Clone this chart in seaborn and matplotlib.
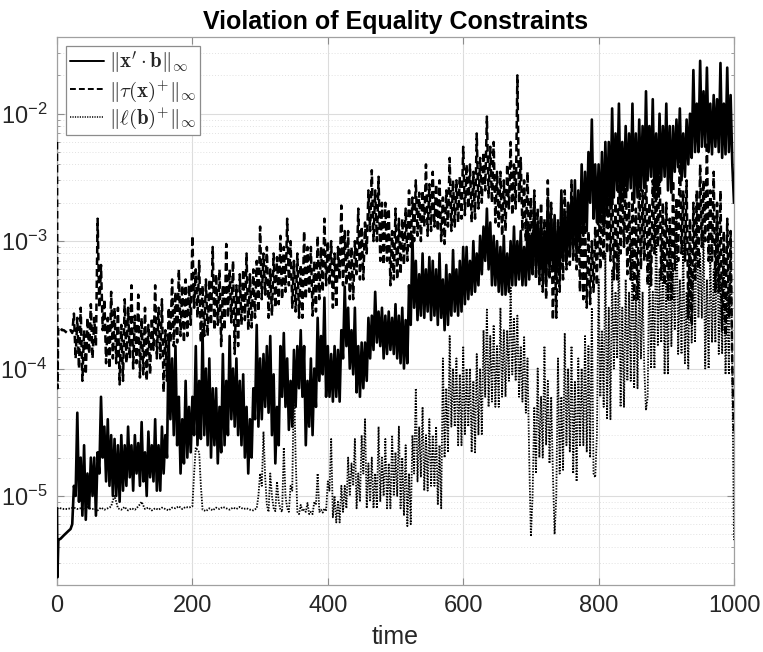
import numpy as np
import pandas as pd
import matplotlib
matplotlib.use("Agg")
import matplotlib.pyplot as plt
from matplotlib.font_manager import FontProperties
from matplotlib.ticker import FixedLocator, LogLocator, FuncFormatter, NullFormatter
import seaborn as sns

sns.set_style("ticks")
plt.rcParams['font.family'] = ['Liberation Sans', 'DejaVu Sans']

# ---------------- data ----------------
title = "Violation of Equality Constraints"
xlabel = "time"
labels = [r"$\|\mathbf{x}'\cdot\mathbf{b}\|_\infty$",
          r"$\|\tau(\mathbf{x})^{+}\|_\infty$",
          r"$\|\ell(\mathbf{b})^{+}\|_\infty$"]

# samples at t = 5, 10, ..., 1000 (local peaks) and t = 2.5, 7.5, ..., 997.5 (local troughs)
time_grid = np.arange(5, 1001, 5)
time_mid = np.arange(2.5, 1000, 5)

# short lead-in portions near t = 0
xb_start_t = [0, 0.6, 2]
xb_start_v = [8.0e-6, 2.3e-6, 4.5e-6]
tau_start_t = [0, 0.8, 1.8]
tau_start_v = [6.0e-3, 7.0e-5, 2.1e-4]
ell_start_t = [0]
ell_start_v = [8.0e-6]

xb_vals = [
    4.6e-6, 4.9e-6, 5.2e-6, 5.5e-6, 1.2e-5, 4.5e-5, 2.0e-5, 2.5e-5, 1.5e-5, 2.0e-5,   # 5-50
    2.0e-5, 2.2e-5, 6.0e-5, 3.5e-5, 4.0e-5, 3.0e-5, 2.8e-5, 2.5e-5, 3.0e-5, 2.5e-5,   # 55-100
    3.5e-5, 2.5e-5, 3.0e-5, 2.6e-5, 3.8e-5, 2.2e-5, 3.2e-5, 2.5e-5, 4.0e-5, 2.5e-5,   # 105-150
    3.5e-5, 3.0e-5, 1.8e-4, 1.2e-4, 1.5e-4, 6.0e-5, 4.0e-5, 8.0e-5, 5.0e-5, 6.0e-5,   # 155-200
    1.5e-4, 8.0e-5, 2.0e-4, 1.0e-4, 1.2e-4, 7.0e-5, 7.0e-5, 5.0e-5, 1.3e-4, 8.0e-5,   # 205-250
    1.8e-4, 1.0e-4, 1.2e-4, 8.0e-5, 9.0e-5, 5.0e-5, 4.0e-5, 7.0e-5, 2.2e-4, 1.2e-4,   # 255-300
    1.3e-4, 1.5e-4, 1.8e-4, 9.0e-5, 5.0e-5, 1.5e-4, 1.9e-4, 1.2e-4, 8.0e-5, 1.4e-4,   # 305-350
    1.5e-4, 2.0e-4, 1.5e-4, 8.0e-5, 1.2e-4, 1.0e-4, 2.5e-4, 1.8e-4, 3.6e-4, 1.5e-4,   # 355-400
    1.3e-4, 1.5e-4, 1.4e-4, 2.0e-4, 4.4e-4, 3.0e-4, 2.0e-4, 3.0e-4, 1.5e-4, 1.6e-4,   # 405-450
    1.6e-4, 2.5e-4, 2.6e-4, 4.0e-4, 2.8e-4, 3.0e-4, 2.6e-4, 2.8e-4, 2.5e-4, 3.2e-4,   # 455-500
    2.6e-4, 3.0e-4, 2.4e-4, 4.5e-4, 1.1e-3, 7.0e-4, 5.5e-4, 8.0e-4, 6.0e-4, 7.5e-4,   # 505-550
    7.0e-4, 6.0e-4, 8.0e-4, 5.0e-4, 6.5e-4, 5.5e-4, 8.5e-4, 6.0e-4, 7.0e-4, 9.0e-4,   # 555-600
    9.0e-4, 7.0e-4, 1.0e-3, 8.0e-4, 1.1e-3, 1.3e-3, 1.8e-3, 1.4e-3, 1.1e-3, 1.0e-3,   # 605-650
    9.0e-4, 1.1e-3, 8.0e-4, 1.0e-3, 1.3e-3, 1.0e-3, 1.2e-3, 9.0e-4, 1.3e-3, 1.1e-3,   # 655-700
    2.0e-3, 1.4e-3, 1.5e-3, 1.2e-3, 2.2e-3, 1.5e-3, 1.6e-3, 1.3e-3, 2.5e-3, 1.6e-3,   # 705-750
    2.0e-3, 2.2e-3, 3.0e-3, 2.5e-3, 4.0e-3, 3.5e-3, 5.0e-3, 9.0e-3, 4.0e-3, 4.0e-3,   # 755-800
    5.0e-3, 6.0e-3, 6.0e-3, 1.1e-2, 7.0e-3, 1.2e-2, 6.0e-3, 8.0e-3, 7.0e-3, 1.2e-2,   # 805-850
    7.0e-3, 9.0e-3, 8.0e-3, 1.5e-2, 8.0e-3, 1.3e-2, 7.0e-3, 1.0e-2, 8.0e-3, 1.2e-2,   # 855-900
    8.0e-3, 8.0e-3, 9.0e-3, 1.1e-2, 7.0e-3, 9.0e-3, 1.0e-2, 2.2e-2, 1.2e-2, 2.6e-2,   # 905-950
    1.5e-2, 2.3e-2, 1.2e-2, 1.4e-2, 1.3e-2, 2.5e-2, 1.2e-2, 2.3e-2, 1.4e-2, 2.0e-3,   # 955-1000
]
xb_mid = [
    4.55e-6, 4.75e-6, 5.05e-6, 5.35e-6, 6.0e-6, 1.0e-5, 9.0e-6, 7.0e-6, 6.5e-6, 8.0e-6,   # 2.5-47.5
    1.0e-5, 7.0e-6, 1.5e-5, 2.0e-5, 1.3e-5, 1.2e-5, 1.0e-5, 1.0e-5, 9.0e-6, 1.1e-5,       # 52.5-97.5
    1.2e-5, 1.4e-5, 1.1e-5, 1.5e-5, 1.2e-5, 1.3e-5, 1.0e-5, 1.4e-5, 1.3e-5, 1.1e-5,       # 102.5-147.5
    1.1e-5, 1.5e-5, 2.0e-5, 4.0e-5, 3.0e-5, 2.5e-5, 1.5e-5, 1.8e-5, 2.0e-5, 2.2e-5,       # 152.5-197.5
    3.0e-5, 2.5e-5, 2.8e-5, 3.0e-5, 2.5e-5, 2.0e-5, 2.5e-5, 1.8e-5, 2.2e-5, 2.5e-5,       # 202.5-247.5
    3.0e-5, 4.0e-5, 3.5e-5, 3.0e-5, 2.5e-5, 2.0e-5, 1.5e-5, 2.0e-5, 4.0e-5, 3.5e-5,       # 252.5-297.5
    4.0e-5, 5.0e-5, 4.5e-5, 3.0e-5, 1.8e-5, 2.5e-5, 6.0e-5, 5.0e-5, 3.3e-5, 3.5e-5,       # 302.5-347.5
    5.0e-5, 7.0e-5, 6.0e-5, 2.5e-5, 3.5e-5, 3.0e-5, 5.0e-5, 8.0e-5, 9.0e-5, 6.0e-5,       # 352.5-397.5
    6.0e-5, 5.5e-5, 6.0e-5, 5.5e-5, 1.2e-4, 1.5e-4, 1.0e-4, 9.0e-5, 6.5e-5, 6.0e-5,       # 402.5-447.5
    7.0e-5, 8.0e-5, 1.2e-4, 1.4e-4, 1.6e-4, 1.5e-4, 1.2e-4, 1.3e-4, 1.4e-4, 1.3e-4,       # 452.5-497.5
    1.2e-4, 1.1e-4, 1.0e-4, 1.1e-4, 2.2e-4, 3.0e-4, 2.4e-4, 2.6e-4, 2.5e-4, 2.8e-4,       # 502.5-547.5
    2.4e-4, 2.6e-4, 2.2e-4, 2.5e-4, 2.0e-4, 2.2e-4, 2.6e-4, 2.8e-4, 2.6e-4, 2.8e-4,       # 552.5-597.5
    3.2e-4, 3.5e-4, 3.8e-4, 4.0e-4, 4.5e-4, 5.5e-4, 7.0e-4, 6.0e-4, 4.5e-4, 4.5e-4,       # 602.5-647.5
    4.0e-4, 3.8e-4, 3.8e-4, 4.0e-4, 4.5e-4, 4.5e-4, 5.0e-4, 4.5e-4, 4.5e-4, 5.0e-4,       # 652.5-697.5
    5.5e-4, 6.0e-4, 5.5e-4, 5.0e-4, 4.8e-4, 6.0e-4, 6.5e-4, 5.0e-4, 5.5e-4, 7.0e-4,       # 702.5-747.5
    7.0e-4, 8.0e-4, 9.0e-4, 8.0e-4, 9.0e-4, 1.1e-3, 1.2e-3, 2.0e-3, 1.5e-3, 1.4e-3,       # 752.5-797.5
    1.4e-3, 1.3e-3, 1.6e-3, 1.8e-3, 2.2e-3, 2.5e-3, 2.0e-3, 2.2e-3, 2.5e-3, 2.6e-3,       # 802.5-847.5
    2.0e-3, 2.2e-3, 2.5e-3, 2.6e-3, 3.0e-3, 3.2e-3, 2.2e-3, 2.4e-3, 3.0e-3, 3.2e-3,       # 852.5-897.5
    2.5e-3, 2.4e-3, 3.5e-3, 3.8e-3, 3.0e-3, 3.2e-3, 4.0e-3, 4.5e-3, 5.0e-3, 5.0e-3,       # 902.5-947.5
    5.5e-3, 5.5e-3, 5.0e-3, 4.8e-3, 5.5e-3, 5.0e-3, 4.5e-3, 4.8e-3, 5.0e-3, 4.0e-3,       # 952.5-997.5
]

tau_vals = [
    2.1e-4, 2.0e-4, 1.9e-4, 2.0e-4, 2.7e-4, 2.5e-4, 3.0e-4, 2.0e-4, 2.5e-4, 3.2e-4,   # 5-50
    2.5e-4, 1.5e-3, 6.5e-4, 3.5e-4, 2.5e-4, 4.0e-4, 3.0e-4, 3.0e-4, 2.2e-4, 3.5e-4,   # 55-100
    3.0e-4, 4.5e-4, 2.6e-4, 3.8e-4, 2.5e-4, 3.0e-4, 2.2e-4, 2.5e-4, 4.5e-4, 3.0e-4,   # 105-150
    3.5e-4, 2.0e-4, 3.0e-4, 5.0e-4, 4.0e-4, 6.0e-4, 4.5e-4, 5.0e-4, 4.5e-4, 1.1e-3,   # 155-200
    6.0e-4, 7.0e-4, 4.5e-4, 5.0e-4, 5.0e-4, 9.0e-4, 5.5e-4, 6.0e-4, 4.5e-4, 9.5e-4,   # 205-250
    6.0e-4, 7.0e-4, 4.5e-4, 5.5e-4, 6.0e-4, 8.0e-4, 5.5e-4, 6.0e-4, 7.0e-4, 1.3e-3,   # 255-300
    8.0e-4, 9.0e-4, 6.0e-4, 8.0e-4, 7.5e-4, 1.1e-3, 9.0e-4, 1.5e-3, 1.0e-3, 7.0e-4,   # 305-350
    8.0e-4, 6.5e-4, 1.2e-3, 9.0e-4, 9.0e-4, 7.0e-4, 1.1e-3, 9.0e-4, 1.5e-3, 1.0e-3,   # 355-400
    1.0e-3, 8.0e-4, 9.0e-4, 1.9e-3, 1.2e-3, 1.2e-3, 9.0e-4, 1.0e-3, 1.8e-3, 1.3e-3,   # 405-450
    1.4e-3, 2.5e-3, 3.6e-3, 2.5e-3, 3.2e-3, 2.0e-3, 2.0e-3, 1.8e-3, 1.2e-3, 1.8e-3,   # 455-500
    1.5e-3, 1.5e-3, 1.8e-3, 2.5e-3, 2.2e-3, 3.0e-3, 2.4e-3, 2.5e-3, 4.0e-3, 2.8e-3,   # 505-550
    3.5e-3, 2.8e-3, 3.0e-3, 2.2e-3, 2.5e-3, 4.5e-3, 3.0e-3, 3.0e-3, 3.2e-3, 5.5e-3,   # 555-600
    4.0e-3, 4.0e-3, 3.5e-3, 7.0e-3, 4.5e-3, 5.0e-3, 9.5e-3, 5.5e-3, 6.0e-3, 3.5e-3,   # 605-650
    3.5e-3, 3.0e-3, 4.0e-3, 6.0e-3, 4.0e-3, 2.0e-2, 4.5e-3, 3.0e-3, 3.5e-3, 2.2e-3,   # 655-700
    2.5e-3, 1.8e-3, 2.0e-3, 1.5e-3, 3.0e-3, 2.0e-3, 1.2e-3, 1.5e-3, 1.8e-3, 2.5e-3,   # 705-750
    2.0e-3, 3.0e-3, 2.2e-3, 2.0e-3, 1.5e-3, 1.5e-3, 1.2e-3, 1.0e-3, 1.3e-3, 2.5e-3,   # 755-800
    2.0e-3, 4.0e-3, 2.5e-3, 3.0e-3, 2.0e-3, 5.0e-3, 3.0e-3, 4.0e-3, 2.0e-3, 2.5e-3,   # 805-850
    1.8e-3, 3.5e-3, 2.5e-3, 5.0e-3, 2.0e-3, 3.0e-3, 3.0e-3, 4.5e-3, 2.0e-3, 2.0e-3,   # 855-900
    1.5e-3, 3.0e-3, 2.2e-3, 5.5e-3, 2.5e-3, 3.0e-3, 1.5e-3, 2.0e-3, 2.5e-3, 4.0e-3,   # 905-950
    3.0e-3, 6.0e-3, 2.5e-3, 3.5e-3, 2.0e-3, 2.5e-3, 1.2e-3, 1.5e-3, 1.2e-3, 3.0e-5,   # 955-1000
]
tau_mid = [
    2.1e-4, 2.0e-4, 1.95e-4, 1.95e-4, 1.9e-4, 1.2e-4, 1.0e-4, 8.0e-5, 9.0e-5, 1.3e-4,    # 2.5-47.5
    1.2e-4, 1.5e-4, 3.0e-4, 2.0e-4, 1.1e-4, 1.0e-4, 1.2e-4, 1.1e-4, 7.5e-5, 8.0e-5,      # 52.5-97.5
    1.1e-4, 1.2e-4, 1.0e-4, 1.1e-4, 8.5e-5, 9.0e-5, 8.0e-5, 9.0e-5, 1.4e-4, 1.2e-4,      # 102.5-147.5
    1.2e-4, 6.5e-5, 8.0e-5, 1.6e-4, 1.5e-4, 1.6e-4, 1.8e-4, 1.6e-4, 1.8e-4, 2.2e-4,      # 152.5-197.5
    3.0e-4, 2.5e-4, 1.6e-4, 1.8e-4, 1.8e-4, 2.2e-4, 2.0e-4, 2.2e-4, 1.5e-4, 2.0e-4,      # 202.5-247.5
    2.5e-4, 2.3e-4, 1.3e-4, 1.5e-4, 2.2e-4, 2.4e-4, 2.0e-4, 2.1e-4, 2.5e-4, 2.8e-4,      # 252.5-297.5
    3.5e-4, 3.8e-4, 2.5e-4, 2.6e-4, 3.0e-4, 3.2e-4, 3.5e-4, 4.0e-4, 4.5e-4, 3.0e-4,      # 302.5-347.5
    2.8e-4, 2.5e-4, 2.5e-4, 3.5e-4, 4.0e-4, 2.6e-4, 2.8e-4, 3.5e-4, 4.0e-4, 4.5e-4,      # 352.5-397.5
    4.5e-4, 3.0e-4, 3.0e-4, 5.0e-4, 4.5e-4, 4.5e-4, 3.5e-4, 3.5e-4, 5.5e-4, 5.0e-4,      # 402.5-447.5
    5.0e-4, 8.0e-4, 1.2e-3, 1.0e-3, 1.0e-3, 7.0e-4, 6.5e-4, 7.0e-4, 4.5e-4, 5.0e-4,      # 452.5-497.5
    5.0e-4, 5.5e-4, 6.5e-4, 7.0e-4, 9.0e-4, 1.0e-3, 1.1e-3, 1.0e-3, 1.3e-3, 1.1e-3,      # 502.5-547.5
    1.2e-3, 1.3e-3, 1.2e-3, 1.0e-3, 9.5e-4, 1.3e-3, 1.2e-3, 1.3e-3, 1.4e-3, 1.5e-3,      # 552.5-597.5
    1.6e-3, 1.8e-3, 1.4e-3, 1.5e-3, 1.8e-3, 2.0e-3, 2.5e-3, 2.2e-3, 2.0e-3, 1.4e-3,      # 602.5-647.5
    1.3e-3, 1.1e-3, 1.2e-3, 1.8e-3, 1.6e-3, 1.8e-3, 2.0e-3, 1.2e-3, 1.0e-3, 7.0e-4,      # 652.5-697.5
    6.0e-4, 5.0e-4, 4.5e-4, 4.0e-4, 3.5e-4, 5.0e-4, 2.4e-4, 2.5e-4, 4.0e-4, 5.0e-4,      # 702.5-747.5
    6.0e-4, 6.5e-4, 7.0e-4, 6.0e-4, 4.0e-4, 3.5e-4, 3.0e-4, 3.2e-4, 4.0e-4, 4.5e-4,      # 752.5-797.5
    6.0e-4, 7.0e-4, 8.0e-4, 7.0e-4, 5.0e-4, 5.0e-4, 8.0e-4, 9.0e-4, 5.5e-4, 5.0e-4,      # 802.5-847.5
    3.5e-4, 3.5e-4, 6.0e-4, 7.0e-4, 4.5e-4, 4.5e-4, 8.0e-4, 9.0e-4, 5.0e-4, 4.5e-4,      # 852.5-897.5
    3.5e-4, 3.5e-4, 6.0e-4, 7.0e-4, 8.0e-4, 7.0e-4, 2.5e-4, 2.2e-4, 5.0e-4, 6.0e-4,      # 902.5-947.5
    9.0e-4, 1.0e-3, 7.0e-4, 7.0e-4, 4.0e-4, 4.0e-4, 2.0e-4, 1.8e-4, 2.5e-4, 1.0e-4,      # 952.5-997.5
]

ell_vals = [
    8.0e-6, 7.9e-6, 7.9e-6, 8.0e-6, 8.1e-6, 7.9e-6, 8.0e-6, 7.8e-6, 8.2e-6, 7.9e-6,   # 5-50
    8.0e-6, 7.7e-6, 8.1e-6, 7.8e-6, 8.0e-6, 8.3e-6, 1.0e-5, 8.0e-6, 7.8e-6, 8.2e-6,   # 55-100
    7.7e-6, 8.0e-6, 7.8e-6, 8.3e-6, 9.0e-6, 7.9e-6, 8.1e-6, 7.7e-6, 8.0e-6, 7.8e-6,   # 105-150
    8.1e-6, 7.9e-6, 7.7e-6, 8.1e-6, 8.0e-6, 8.3e-6, 7.9e-6, 8.2e-6, 8.1e-6, 8.3e-6,   # 155-200
    2.4e-5, 2.2e-5, 7.8e-6, 7.6e-6, 8.0e-6, 7.7e-6, 8.1e-6, 7.9e-6, 8.2e-6, 8.0e-6,   # 205-250
    7.8e-6, 8.1e-6, 7.9e-6, 8.2e-6, 7.9e-6, 8.0e-6, 7.8e-6, 7.7e-6, 8.0e-6, 1.5e-5,   # 255-300
    3.2e-5, 8.5e-6, 1.5e-5, 8.0e-6, 1.3e-5, 7.8e-6, 2.4e-5, 8.0e-6, 1.2e-5, 9.3e-5,   # 305-350
    7.5e-6, 8.5e-6, 7.8e-6, 8.8e-6, 7.5e-6, 9.0e-6, 1.5e-5, 7.8e-6, 8.0e-6, 1.3e-5,   # 355-400
    2.8e-5, 1.0e-5, 9.0e-6, 1.2e-5, 1.2e-5, 2.0e-5, 1.8e-5, 2.8e-5, 1.5e-5, 3.0e-5,   # 405-450
    4.0e-5, 1.8e-5, 2.0e-5, 1.5e-5, 3.5e-5, 2.0e-5, 2.8e-5, 1.8e-5, 3.0e-5, 2.2e-5,   # 455-500
    3.5e-5, 2.0e-5, 2.5e-5, 1.5e-5, 3.0e-5, 7.0e-5, 3.5e-5, 5.0e-5, 3.0e-5, 4.0e-5,   # 505-550
    3.0e-5, 3.5e-5, 2.5e-5, 1.2e-4, 7.0e-5, 1.8e-4, 1.0e-4, 1.2e-4, 9.0e-5, 1.5e-4,   # 555-600
    1.0e-4, 1.0e-4, 8.0e-5, 1.3e-4, 1.0e-4, 2.0e-4, 2.9e-4, 1.8e-4, 2.2e-4, 1.5e-4,   # 605-650
    3.0e-4, 2.0e-4, 2.0e-4, 4.4e-4, 2.5e-4, 2.6e-4, 1.5e-4, 1.8e-4, 1.2e-4, 4.8e-6,   # 655-700
    5.0e-5, 1.0e-4, 6.0e-5, 1.5e-4, 8.0e-5, 6.0e-5, 5.0e-6, 1.2e-4, 6.0e-5, 1.9e-4,   # 705-750
    1.0e-4, 1.5e-4, 8.0e-5, 1.2e-4, 1.0e-4, 1.8e-4, 1.5e-4, 3.0e-4, 1.4e-5, 5.0e-4,   # 755-800
    2.0e-4, 8.0e-4, 3.0e-4, 6.0e-4, 4.0e-4, 9.0e-4, 3.0e-4, 5.0e-4, 4.0e-4, 1.0e-3,   # 805-850
    4.0e-4, 6.0e-4, 4.0e-4, 4.7e-5, 8.0e-4, 4.0e-4, 1.5e-3, 6.0e-4, 9.0e-4, 5.0e-4,   # 855-900
    1.2e-3, 6.0e-4, 2.0e-3, 5.0e-4, 1.0e-3, 4.0e-4, 8.0e-4, 6.0e-4, 1.8e-3, 8.0e-4,   # 905-950
    1.2e-3, 5.0e-4, 9.0e-4, 6.0e-4, 1.5e-3, 5.0e-4, 8.0e-4, 4.0e-4, 1.2e-3, 4.5e-6,   # 955-1000
]
ell_mid = [
    8.0e-6, 7.95e-6, 7.9e-6, 7.95e-6, 8.05e-6, 8.0e-6, 7.95e-6, 7.9e-6, 8.0e-6, 8.05e-6,    # 2.5-47.5
    7.9e-6, 7.85e-6, 7.9e-6, 7.95e-6, 7.9e-6, 8.1e-6, 9.2e-6, 9.0e-6, 7.9e-6, 8.0e-6,       # 52.5-97.5
    7.9e-6, 7.85e-6, 7.9e-6, 8.0e-6, 8.6e-6, 8.4e-6, 8.0e-6, 7.9e-6, 7.85e-6, 7.9e-6,       # 102.5-147.5
    7.95e-6, 8.0e-6, 7.8e-6, 7.9e-6, 8.05e-6, 8.15e-6, 8.1e-6, 8.05e-6, 8.15e-6, 8.2e-6,    # 152.5-197.5
    1.5e-5, 2.3e-5, 1.2e-5, 7.7e-6, 7.8e-6, 7.85e-6, 7.9e-6, 8.0e-6, 8.05e-6, 8.1e-6,       # 202.5-247.5
    7.9e-6, 7.95e-6, 8.0e-6, 8.05e-6, 8.05e-6, 7.95e-6, 7.9e-6, 7.75e-6, 7.85e-6, 1.0e-5,   # 252.5-297.5
    1.2e-5, 1.4e-5, 7.5e-6, 1.0e-5, 7.6e-6, 9.0e-6, 7.5e-6, 1.0e-5, 7.5e-6, 1.1e-5,        # 302.5-347.5
    2.0e-5, 7.2e-6, 7.6e-6, 7.5e-6, 7.2e-6, 7.2e-6, 8.5e-6, 7.5e-6, 7.4e-6, 7.6e-6,        # 352.5-397.5
    1.1e-5, 6.8e-6, 6.2e-6, 6.2e-6, 7.5e-6, 8.0e-6, 1.0e-5, 1.2e-5, 8.0e-6, 9.0e-6,        # 402.5-447.5
    1.5e-5, 8.0e-6, 9.0e-6, 8.0e-6, 8.0e-6, 9.0e-6, 1.0e-5, 8.0e-6, 8.0e-6, 1.0e-5,        # 452.5-497.5
    1.0e-5, 8.0e-6, 7.0e-6, 5.8e-6, 6.0e-6, 1.5e-5, 1.3e-5, 1.4e-5, 1.1e-5, 1.1e-5,        # 502.5-547.5
    1.2e-5, 1.2e-5, 8.5e-6, 8.0e-6, 2.0e-5, 2.2e-5, 3.5e-5, 3.5e-5, 2.5e-5, 2.5e-5,        # 552.5-597.5
    3.0e-5, 3.5e-5, 2.2e-5, 2.2e-5, 3.0e-5, 3.0e-5, 6.0e-5, 5.0e-5, 5.5e-5, 5.0e-5,        # 602.5-647.5
    5.0e-5, 6.0e-5, 6.0e-5, 8.0e-5, 9.0e-5, 8.0e-5, 6.0e-5, 5.5e-5, 4.5e-5, 2.0e-5,        # 652.5-697.5
    1.0e-5, 1.5e-5, 2.0e-5, 2.0e-5, 2.5e-5, 1.8e-5, 1.5e-5, 1.0e-5, 1.5e-5, 1.6e-5,        # 702.5-747.5
    2.5e-5, 2.2e-5, 1.5e-5, 1.3e-5, 2.5e-5, 2.5e-5, 2.2e-5, 2.0e-5, 1.5e-5, 3.0e-5,        # 752.5-797.5
    6.0e-5, 5.0e-5, 4.0e-5, 4.0e-5, 1.0e-4, 1.2e-4, 5.0e-5, 5.0e-5, 8.0e-5, 8.0e-5,        # 802.5-847.5
    7.0e-5, 7.0e-5, 1.2e-4, 1.0e-4, 6.0e-5, 1.0e-4, 1.0e-4, 1.5e-4, 1.6e-4, 9.0e-5,        # 852.5-897.5
    9.0e-5, 1.5e-4, 2.0e-4, 1.3e-4, 1.3e-4, 1.1e-4, 1.0e-4, 1.6e-4, 1.6e-4, 2.5e-4,        # 902.5-947.5
    2.5e-4, 1.0e-4, 1.0e-4, 1.6e-4, 1.6e-4, 1.3e-4, 1.3e-4, 9.0e-5, 9.0e-5, 1.0e-4,        # 952.5-997.5
]

xlim = (0, 1000)
ylim = (2e-6, 4e-2)
xticks = [0, 200, 400, 600, 800, 1000]
yticks = [1e-5, 1e-4, 1e-3, 1e-2]

# ---------------- build data frames ----------------
def series(t0, v0, vals, mids):
    df = pd.DataFrame({"t": np.concatenate([t0, time_grid, time_mid]),
                       "v": np.concatenate([v0, vals, mids])})
    return df.sort_values("t").reset_index(drop=True)

df_xb = series(xb_start_t, xb_start_v, xb_vals, xb_mid)
df_tau = series(tau_start_t, tau_start_v, tau_vals, tau_mid)
df_ell = series(ell_start_t, ell_start_v, ell_vals, ell_mid)

# ---------------- figure ----------------
fig = plt.figure(figsize=(7.63, 6.52), dpi=100)
ax = fig.add_axes([57 / 763, 67 / 652, 677 / 763, 548 / 652])

ax.set_yscale("log")
ax.set_xlim(*xlim)
ax.set_ylim(*ylim)

# grid (MATLAB-like)
ax.grid(True, which="major", color="#dcdcdc", lw=0.8, zorder=0)
ax.grid(True, which="minor", axis="y", color="#e2e2e2", lw=0.7,
        linestyle=(0, (1, 2)), zorder=0)
ax.set_axisbelow(True)

sns.lineplot(data=df_xb, x="t", y="v", ax=ax, color="black", lw=1.9,
             estimator=None, sort=False, label=labels[0], zorder=3)
sns.lineplot(data=df_tau, x="t", y="v", ax=ax, color="black", lw=1.8,
             estimator=None, sort=False, label=labels[1], zorder=3)
ax.lines[-1].set_dashes((3.0, 1.6))
sns.lineplot(data=df_ell, x="t", y="v", ax=ax, color="black", lw=1.3,
             estimator=None, sort=False, label=labels[2], zorder=3)
ax.lines[-1].set_dashes((0.8, 0.8))

ax.set_xlim(*xlim)
ax.set_ylim(*ylim)

# ticks
ax.xaxis.set_major_locator(FixedLocator(xticks))
ax.yaxis.set_major_locator(FixedLocator(yticks))
ax.yaxis.set_minor_locator(LogLocator(base=10, subs=np.arange(2, 10), numticks=20))
ax.yaxis.set_minor_formatter(NullFormatter())
ax.yaxis.set_major_formatter(FuncFormatter(
    lambda v, p: r"$\mathregular{10^{%d}}$" % int(round(np.log10(v)))))
ax.tick_params(which="both", direction="in", top=True, right=True,
               color="#8c8c8c", labelcolor="#262626", labelsize=17)
ax.tick_params(which="major", length=5, width=0.8, pad=7)
ax.tick_params(which="minor", length=2.5, width=0.6)
for s in ax.spines.values():
    s.set_color("#a0a0a0")
    s.set_linewidth(0.9)

ax.set_xlabel(xlabel, fontsize=18, color="#262626", labelpad=6)
ax.set_ylabel("")
ax.set_title(title, fontsize=18, fontweight="bold", color="black", pad=6)

# legend
leg_prop = FontProperties(size=15, math_fontfamily="cm")
h, l = ax.get_legend_handles_labels()
leg = ax.legend(h, l, loc="upper left", prop=leg_prop, handlelength=1.65,
                handletextpad=0.25, borderpad=0.15, labelspacing=0.12,
                borderaxespad=0.45, fancybox=False, framealpha=1,
                edgecolor="#8c8c8c")
leg.set_zorder(5)
leg.get_frame().set_linewidth(0.9)
for ln, w, d in zip(leg.get_lines(), [1.4, 1.4, 1.1], [None, (3.0, 1.6), (0.8, 0.8)]):
    ln.set_linewidth(w)
    if d is not None:
        ln.set_dashes(d)

fig.savefig("out.png", dpi=100)
